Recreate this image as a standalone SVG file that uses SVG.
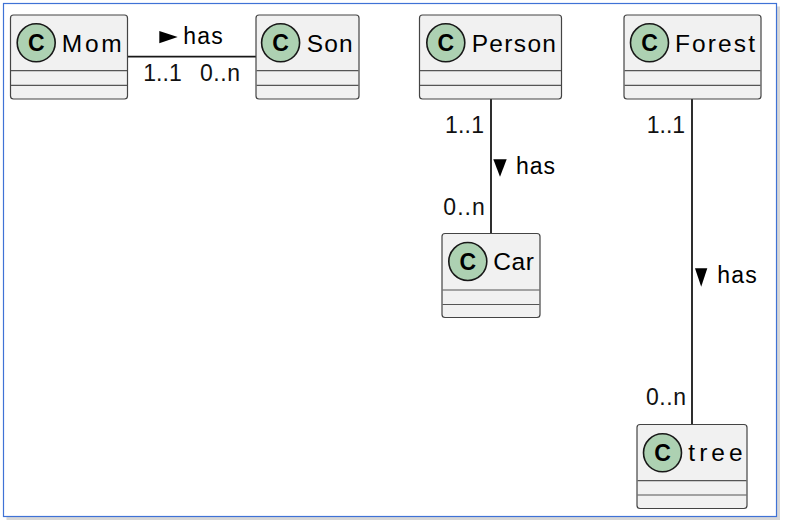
<svg xmlns="http://www.w3.org/2000/svg" width="786" height="526" viewBox="0 0 786 526">
<style>
.box{fill:#F1F1F1;stroke:#444;stroke-width:1.2}
.sep{stroke:#555;stroke-width:1.2}
.circ{fill:#ADD1B2;stroke:#181818;stroke-width:1.6}
.cg{font-family:"Liberation Sans",Arial,sans-serif;font-weight:bold;font-size:23px;fill:#000;text-anchor:middle}
.name{font-family:"Liberation Sans",Arial,sans-serif;font-size:24.5px;fill:#000}
.lbl{font-family:"Liberation Sans",Arial,sans-serif;font-size:23px;fill:#000}
.mult{font-family:"Liberation Sans",Arial,sans-serif;font-size:23px;fill:#111}
.edge{stroke:#181818;stroke-width:1.8;fill:none}
</style>
<rect x="0" y="0" width="786" height="526" fill="#fff"/>
<rect x="6" y="6" width="774" height="514" fill="#d6d6d6" opacity="0.5"/>
<rect x="7" y="7" width="773" height="513" fill="#c4c4c4" opacity="0.5"/>
<rect x="3.5" y="3.5" width="773" height="513" fill="#fff" stroke="#3f72d6" stroke-width="1.2"/>

<g id="connectors">
  <g id="mom-son">
    <line class="edge" x1="128" y1="56.7" x2="256" y2="56.7"/>
    <polygon points="159.3,31 159.3,43.3 177.7,37.1" fill="#000"/>
    <text class="lbl" x="183.3" y="44.3" textLength="39.4" lengthAdjust="spacing">has</text>
    <text class="mult" x="143.3" y="81" textLength="38.4" lengthAdjust="spacing">1..1</text>
    <text class="mult" x="200" y="81" textLength="40" lengthAdjust="spacing">0..n</text>
  </g>
  <g id="person-car">
    <line class="edge" x1="491" y1="99" x2="491" y2="233.5"/>
    <polygon points="493.3,159.3 506.7,159.3 500,176.7" fill="#000"/>
    <text class="lbl" x="516" y="174" textLength="39" lengthAdjust="spacing">has</text>
    <text class="mult" x="445" y="133.3" textLength="39" lengthAdjust="spacing">1..1</text>
    <text class="mult" x="443.3" y="215" textLength="41.5" lengthAdjust="spacing">0..n</text>
  </g>
  <g id="forest-tree">
    <line class="edge" x1="692" y1="99" x2="692" y2="424.5"/>
    <polygon points="695,268.3 707.3,268.3 701.2,286.7" fill="#000"/>
    <text class="lbl" x="717.3" y="283.3" textLength="39.5" lengthAdjust="spacing">has</text>
    <text class="mult" x="646.7" y="133.3" textLength="38.4" lengthAdjust="spacing">1..1</text>
    <text class="mult" x="646" y="405" textLength="40" lengthAdjust="spacing">0..n</text>
  </g>
</g>

<g id="Mom">
  <rect class="box" x="10.5" y="15" width="117" height="84" rx="3"/>
  <line class="sep" x1="11" y1="70.7" x2="127" y2="70.7"/>
  <line class="sep" x1="11" y1="85.3" x2="127" y2="85.3"/>
  <circle class="circ" cx="36.2" cy="42.8" r="19"/>
  <text class="cg" x="36.2" y="51">C</text>
  <text class="name" x="61.7" y="51.7" textLength="60" lengthAdjust="spacing">Mom</text>
</g>
<g id="Son">
  <rect class="box" x="256" y="15" width="103" height="84" rx="3"/>
  <line class="sep" x1="256.5" y1="70.7" x2="358.5" y2="70.7"/>
  <line class="sep" x1="256.5" y1="85.3" x2="358.5" y2="85.3"/>
  <circle class="circ" cx="280.6" cy="42.8" r="19"/>
  <text class="cg" x="280.6" y="51">C</text>
  <text class="name" x="306.7" y="51.7" textLength="46" lengthAdjust="spacing">Son</text>
</g>
<g id="Person">
  <rect class="box" x="419.5" y="15" width="142" height="84" rx="3"/>
  <line class="sep" x1="420" y1="70.7" x2="561" y2="70.7"/>
  <line class="sep" x1="420" y1="85.3" x2="561" y2="85.3"/>
  <circle class="circ" cx="445.8" cy="42.8" r="19"/>
  <text class="cg" x="445.8" y="51">C</text>
  <text class="name" x="471.7" y="51.7" textLength="84.3" lengthAdjust="spacing">Person</text>
</g>
<g id="Forest">
  <rect class="box" x="624" y="15" width="137" height="84" rx="3"/>
  <line class="sep" x1="624.5" y1="70.7" x2="760.5" y2="70.7"/>
  <line class="sep" x1="624.5" y1="85.3" x2="760.5" y2="85.3"/>
  <circle class="circ" cx="649.5" cy="42.8" r="19"/>
  <text class="cg" x="649.5" y="51">C</text>
  <text class="name" x="675" y="51.7" textLength="80" lengthAdjust="spacing">Forest</text>
</g>
<g id="Car">
  <rect class="box" x="442" y="233.5" width="98" height="84" rx="3"/>
  <line class="sep" x1="442.5" y1="290" x2="539.5" y2="290"/>
  <line class="sep" x1="442.5" y1="304.5" x2="539.5" y2="304.5"/>
  <circle class="circ" cx="467.8" cy="261.5" r="19"/>
  <text class="cg" x="467.8" y="269.7">C</text>
  <text class="name" x="493.3" y="270.3" textLength="40.7" lengthAdjust="spacing">Car</text>
</g>
<g id="tree">
  <rect class="box" x="637" y="424.5" width="110" height="84" rx="3"/>
  <line class="sep" x1="637.5" y1="480.7" x2="746.5" y2="480.7"/>
  <line class="sep" x1="637.5" y1="495" x2="746.5" y2="495"/>
  <circle class="circ" cx="662.5" cy="452.8" r="19"/>
  <text class="cg" x="662.5" y="461">C</text>
  <text class="name" x="688.3" y="461.3" textLength="54.4" lengthAdjust="spacing">tree</text>
</g>
</svg>
